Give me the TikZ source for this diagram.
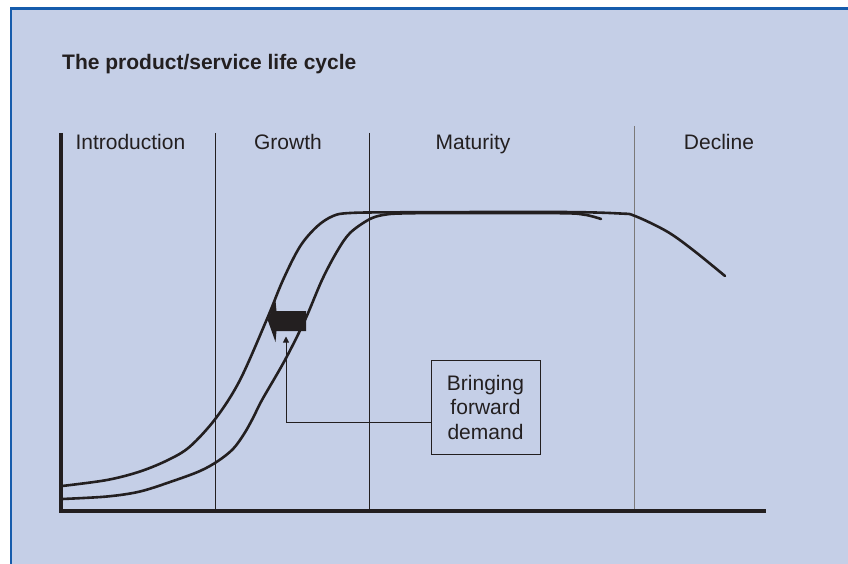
\documentclass[tikz,border=0pt]{standalone}
\usepackage{fontspec}
\setmainfont{Liberation Sans}
\usepackage{tikz}
\usetikzlibrary{arrows.meta,positioning}
\usepackage{xcolor}
\definecolor{PanelBlue}{RGB}{197,207,231}
\definecolor{FrameBlue}{RGB}{22,92,172}
\definecolor{Ink}{RGB}{35,31,32}
\tikzset{
  phase/.style={anchor=base, inner sep=0pt, text=Ink,
    font=\fontsize{21}{25}\selectfont},
  curve/.style={draw=Ink, line width=2.6pt, line cap=round},
  axis/.style={draw=Ink, line width=4pt},
  divider/.style={draw=Ink, line width=0.9pt},
  notebox/.style={draw=Ink, line width=1pt, minimum width=109pt,
    minimum height=94pt, inner sep=0pt, align=center, text=Ink,
    font=\fontsize{21}{24.5}\selectfont},
  pointer/.style={-{Triangle[length=6pt,width=6pt]}, draw=Ink,
    line width=0.9pt}
}

\begin{document}
\begin{tikzpicture}[x=1pt,y=-1pt]
  \useasboundingbox (0,0) rectangle (848,564);
  \clip (0,0) rectangle (848,564);
  \fill[white] (0,0) rectangle (848,564);
  \filldraw[fill=PanelBlue,draw=FrameBlue,line width=2.7pt]
    (11,8.5) rectangle (870,590);

  \node[anchor=base west, inner sep=0pt, text=Ink,
    font=\bfseries\fontsize{21}{25}\selectfont] (title) at (62,69.3)
    {The product/service life cycle};

  % phase dividers
  \draw[divider] (215.7,133) -- (215.7,511);
  \draw[divider] (369.3,133) -- (369.3,511);
  \draw[divider, draw=Ink!60, line width=1.4pt] (634.5,126) -- (634.5,511);

  \node[phase] (intro) at (130.4,150) {Introduction};
  \node[phase] (growth) at (288,150) {Growth};
  \node[phase] (maturity) at (473,150) {Maturity};
  \node[phase] (decline) at (719,150) {Decline};

  % the two life cycle curves
  \draw[curve] plot[smooth, tension=0.55] coordinates {
    (62,486) (107,480) (140,471.5) (168,460) (190,446.5) (216,418)
    (240,380) (267,319) (283,280) (300,246.5) (317,226.5) (333,216)
    (350,213) (400,212.3) (560,212) (620,213.5) (635,216)
    (667,231.5) (693,250) (725,276)};
  \draw[curve] plot[smooth, tension=0.55] coordinates {
    (62,499) (107,496.5) (140,491.5) (173,481) (200,471) (218,461)
    (233,449) (244,434) (253,418) (262,400) (285,360) (305,320)
    (322,280) (337,251.5) (350,233) (369,219.5) (383,215) (400,213.5)
    (450,213) (560,213.2) (585,214.8) (601,219)};

  % axes
  \draw[axis] (61,133) -- (61,511) -- (766,511);

  % shift of demand
  \fill[Ink] (267.7,320) -- (275.5,300.5) -- (276.5,311) -- (306,311)
    -- (306,331) -- (276.5,331) -- (275.5,342) -- cycle;

  \node[notebox] (note) at (485.5,407) {Bringing\\forward\\demand};
  \coordinate (tip) at (286,336.5);
  \draw[pointer] ([yshift=-15pt]note.west) -| (tip);
\end{tikzpicture}
\end{document}
